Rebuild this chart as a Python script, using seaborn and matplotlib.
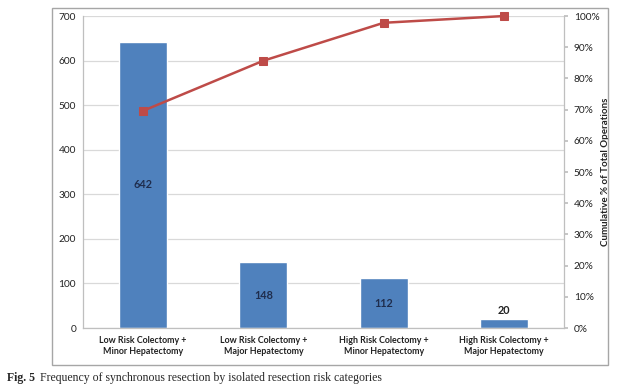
import numpy as np
import pandas as pd
import matplotlib
matplotlib.use("Agg")
import matplotlib.pyplot as plt
from matplotlib.patches import Rectangle
from matplotlib.ticker import PercentFormatter, FixedLocator
import seaborn as sns

# Data
categories = [
    "Low Risk Colectomy +\nMinor Hepatectomy",
    "Low Risk Colectomy +\nMajor Hepatectomy",
    "High Risk Colectomy +\nMinor Hepatectomy",
    "High Risk Colectomy +\nMajor Hepatectomy",
]
counts = [642, 148, 112, 20]
left_ticks = [0, 100, 200, 300, 400, 500, 600, 700]
right_ticks = [0, 10, 20, 30, 40, 50, 60, 70, 80, 90, 100]
caption_bold = "Fig. 5"
caption_text = "Frequency of synchronous resection by isolated resection risk categories"

cumulative = np.cumsum(counts) / np.sum(counts) * 100

df = pd.DataFrame({"category": categories, "count": counts,
                   "pos": np.arange(len(categories)), "cum": cumulative})

sns.set_theme(style="white")
plt.rcParams["font.family"] = ["Lato", "DejaVu Sans"]

bar_color = "#4F81BD"
line_color = "#BE4B48"
grid_color = "#D9D9D9"
axis_color = "#BFBFBF"

fig = plt.figure(figsize=(6.4, 3.91), dpi=100)
fig.patch.set_facecolor("white")

# outer chart frame
fig.patches.append(Rectangle((0.081, 0.066), 0.869, 0.913, transform=fig.transFigure,
                             fill=False, edgecolor="#A6A6A6", linewidth=1.0))

ax = fig.add_axes([0.1297, 0.161, 0.7516, 0.798])
sns.barplot(data=df, x="category", y="count", color=bar_color, width=0.4,
            saturation=1, ax=ax, zorder=2)
ax.set_ylim(0, 700)
ax.set_xlim(-0.5, len(categories) - 0.5)
ax.yaxis.set_major_locator(FixedLocator(left_ticks))
ax.grid(axis="y", color=grid_color, linewidth=0.9, zorder=0)
ax.set_axisbelow(True)
ax.set_xlabel("")
ax.set_ylabel("")
for s in ["top", "right"]:
    ax.spines[s].set_visible(False)
for s in ["left", "bottom"]:
    ax.spines[s].set_color(axis_color)
    ax.spines[s].set_linewidth(0.9)
ax.tick_params(axis="y", labelsize=7.3, colors="#222222", length=0, pad=5)
ax.tick_params(axis="x", labelsize=6.4, length=0, pad=6)
for lbl in ax.get_xticklabels():
    lbl.set_fontweight("bold")
    lbl.set_color("#222222")
# category separator ticks
ax.set_xticks(np.arange(-0.5, len(categories)), minor=True)
ax.tick_params(axis="x", which="minor", length=5, color=axis_color, width=0.9)

# value labels
for i, v in enumerate(counts):
    if v < 50:
        y, va = v + 8, "bottom"
    else:
        y, va = v / 2, "center"
    ax.text(i, y, str(v), ha="center", va=va, fontsize=7.8, fontweight="bold",
            color="#1F2D4D" if v >= 50 else "#222222", zorder=5)

# cumulative line
ax2 = ax.twinx()
sns.lineplot(data=df, x="pos", y="cum", color=line_color, linewidth=1.8,
             marker="s", markersize=6, markeredgecolor=line_color, ax=ax2,
             zorder=4, clip_on=False)
ax2.set_ylim(0, 100)
ax2.set_xlim(-0.5, len(categories) - 0.5)
ax2.yaxis.set_major_locator(FixedLocator(right_ticks))
ax2.yaxis.set_major_formatter(PercentFormatter(decimals=0))
ax2.tick_params(axis="y", labelsize=7.3, colors="#222222", length=3, pad=4)
ax2.tick_params(axis="y", color=axis_color)
ax2.set_xlabel("")
ax2.set_ylabel("Cumulative % of Total Operations", fontsize=7, fontweight="bold",
               color="#222222", labelpad=1)
for s in ["top", "left", "bottom"]:
    ax2.spines[s].set_visible(False)
ax2.spines["right"].set_color(axis_color)
ax2.spines["right"].set_linewidth(0.9)

# caption
fig.text(0.011, 0.033, caption_bold, fontsize=8.5, fontweight="bold",
         family="Liberation Serif", va="center")
fig.text(0.062, 0.033, caption_text, fontsize=8.5, family="Liberation Serif",
         va="center")

fig.savefig("out.png", dpi=100, facecolor="white")
